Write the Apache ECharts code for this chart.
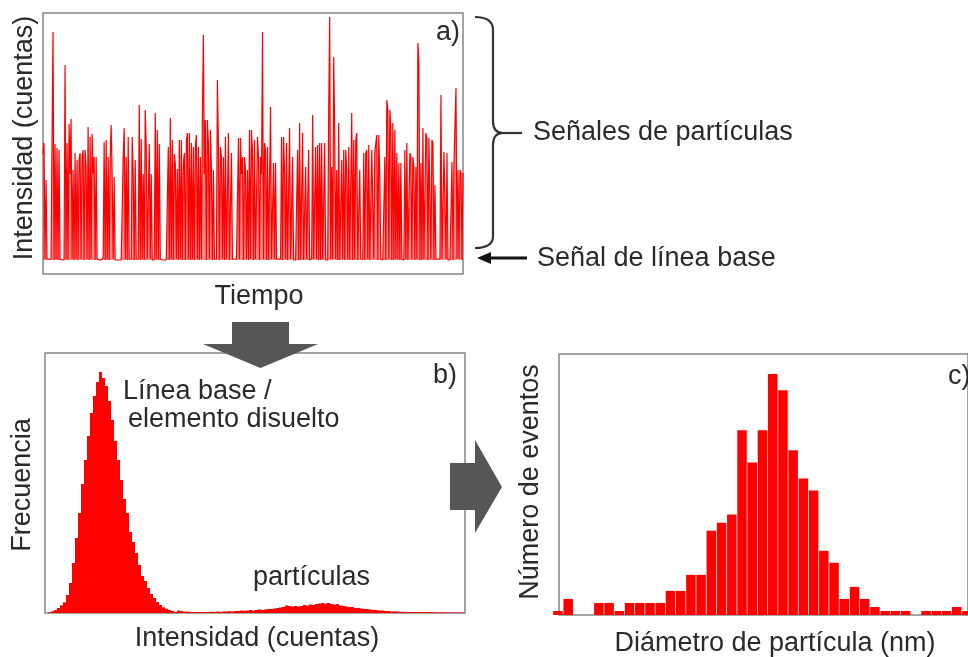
<!DOCTYPE html>
<html>
<head>
<meta charset="utf-8">
<script src="https://cdn.jsdelivr.net/npm/echarts@6/dist/echarts.min.js"></script>
<style>html,body{margin:0;padding:0;background:#fff}#c{width:968px;height:657px}</style>
</head>
<body>
<div id="c"></div>
<script>
// Panel a: time signal (intensity in counts, one sample per time step)
const signalA = [
120,131,15,94,15,14,15,14,15,14,242,14,130,15,126,14,124,15,15,14,15,14,209,15,131,14,150,100,155,15,
104,14,121,15,114,14,114,121,15,118,124,14,124,107,15,147,14,137,15,140,100,117,14,117,15,15,14,15,14,15,
16,132,14,134,15,117,14,114,149,97,15,97,14,15,14,15,14,15,14,15,117,146,15,117,14,137,15,14,15,137,
100,14,114,15,14,15,169,14,135,15,100,14,164,127,15,14,130,15,100,14,15,14,161,15,144,14,130,15,15,14,
15,14,15,14,15,127,14,156,15,134,14,120,110,15,105,14,134,15,134,14,110,
121,14,132,141,15,141,14,131,15,127,14,127,139,15,127,14,117,15,157,239,100,154,14,154,131,15,144,104,14,104,
15,14,15,194,127,14,127,117,15,117,14,137,15,15,141,14,14,121,15,14,15,14,15,14,136,15,136,100,117,14,
117,104,15,104,14,144,15,144,121,14,134,15,15,137,117,14,117,100,242,15,131,124,14,127,14,15,167,15,14,111,
15,111,15,14,15,14,15,137,14,137,101,15,131,14,14,146,15,15,117,14,15,14,15,124,14,151,14,15,141,14,
14,107,15,15,124,14,14,15,159,15,14,127,15,129,14,131,14,131,15,15,131,14,15,14,161,257,15,107,15,217,
142,15,104,14,151,14,15,114,15,124,14,124,104,15,127,14,14,161,14,134,15,134,141,14,14,104,15,14,15,121,
14,121,124,15,129,14,14,124,122,15,122,121,139,14,139,97,15,15,14,15,117,14,174,164,15,164,147,14,151,14,
144,15,121,15,111,14,111,15,15,14,124,15,131,14,14,121,117,15,117,107,14,107,15,231,211,14,111,14,146,15,
15,141,136,14,136,134,15,134,131,14,89,15,15,15,14,15,179,15,14,122,121,15,121,14,15,14,15,112,14,111,
111,186,15,104,15,104,101,14,101
];
const timeSteps = signalA.map((_, i) => i);
const baselineLevel = 14;

// Panel b: intensity histogram (frequency per intensity bin)
const histB = [
0,0.7,1.7,3,5,7.7,10.7,18,30,50,75,100,129,153,177,200,217,231,241,235,
227,212,193,172,153,133,114,100,81,71,60,48,37,32,25,19,15,11,8,5.7,
4.3,3,2,1,
2.5,2,1.5,1.5,1,1,1,1,0.8,1,1,1.2,1,1.5,1.2,1.5,1.5,1.8,1.5,2,
2,2.5,2.2,2.5,3,2.5,3,3.5,3,3.5,4,4,4.5,5,5.5,6,7.5,7,6.5,7,
6.5,7,8,7.5,8.5,8,9,9.5,10,9.5,10,9,8.5,9,7.5,7,6.5,6,6,5,
5,4.5,4,4,3.5,3,3,2.5,2.5,2,2,1.5,1.5,1.5,1.2,1.2,1,1,1,1,
0.8,1,0.8,0.8,1,0.8,0.8,0.6,0.8,0.6,0.6,0.5,0.6,0.5,0.5,0.4
];
const binsB = histB.map((_, i) => i);

// Panel c: particle diameter histogram (bin index, events)
const binsC = [-1,0,1,2,3,4,5,6,7,8,9,10,11,12,13,14,15,16,17,18,19,20,21,22,23,24,25,26,27,28,29,30,31,32,33,34,35,36,37,38,39];
const eventsC = [1,4,0,0,3,3,1,3,3,3,3,6,6,10,10,21,23,25,46,38,46,60,56,41,34,31,16,13,4,7,4,2,1,1,1,0,1,1,1,2,1];

const RED = '#ff0000';
const TXT = '#2a2a2a';
const FONT = 'Liberation Sans, Arial, sans-serif';
const GRAY = '#565656';

function txt(x, y, text, opts) {
  opts = opts || {};
  return {
    type: 'text', x: x, y: y, rotation: opts.rot || 0, z: 100,
    style: {
      text: text, fill: TXT, fontSize: opts.size || 27, fontFamily: FONT,
      align: opts.align || 'center', verticalAlign: 'middle'
    }
  };
}
function seg(x1, y1, x2, y2) {
  return {type: 'line', z: 100, shape: {x1: x1, y1: y1, x2: x2, y2: y2}, style: {stroke: '#333333', lineWidth: 2.2}};
}
function curve(x1, y1, cx, cy, x2, y2) {
  return {type: 'bezierCurve', z: 100, shape: {x1: x1, y1: y1, cpx1: cx, cpy1: cy, x2: x2, y2: y2}, style: {stroke: '#333333', lineWidth: 2.2, fill: null}};
}

const chart = echarts.init(document.getElementById('c'), null, {renderer: 'canvas'});
const hidden = {axisLine: {show: false}, axisTick: {show: false}, axisLabel: {show: false}, splitLine: {show: false}};

chart.setOption({
  animation: false,
  backgroundColor: '#ffffff',
  grid: [
    {left: 43, top: 13, width: 420, height: 261, show: true, borderColor: '#858585', borderWidth: 1.5, backgroundColor: 'transparent'},
    {left: 45, top: 353, width: 420, height: 260, show: true, borderColor: '#858585', borderWidth: 1.5, backgroundColor: 'transparent'},
    {left: 559, top: 354, width: 420, height: 261, show: true, borderColor: '#858585', borderWidth: 1.5, backgroundColor: 'transparent'}
  ],
  xAxis: [
    Object.assign({type: 'category', gridIndex: 0, data: timeSteps, boundaryGap: false}, hidden),
    Object.assign({type: 'category', gridIndex: 1, data: binsB, boundaryGap: true}, hidden),
    Object.assign({type: 'value', gridIndex: 2, min: -0.4, max: 39.6}, hidden)
  ],
  yAxis: [
    Object.assign({type: 'value', gridIndex: 0, min: 0, max: 261}, hidden),
    Object.assign({type: 'value', gridIndex: 1, min: 0, max: 260}, hidden),
    Object.assign({type: 'value', gridIndex: 2, min: 0, max: 65}, hidden)
  ],
  series: [
    {
      type: 'line', xAxisIndex: 0, yAxisIndex: 0, data: signalA,
      showSymbol: false, symbol: 'none', smooth: false,
      lineStyle: {color: RED, width: 1.2}, itemStyle: {color: RED},
      areaStyle: {color: RED, opacity: 0.45, origin: baselineLevel}
    },
    {
      type: 'bar', xAxisIndex: 1, yAxisIndex: 1, data: histB,
      barCategoryGap: '0%', barGap: '0%', itemStyle: {color: RED}
    },
    {
      type: 'bar', xAxisIndex: 2, yAxisIndex: 2,
      data: binsC.map((k, i) => [k + 0.5, eventsC[i]]),
      barWidth: 9.5, clip: true, itemStyle: {color: RED}
    }
  ],
  graphic: [
    txt(25, 138, 'Intensidad (cuentas)', {rot: Math.PI / 2}),
    txt(259, 297, 'Tiempo'),
    txt(23, 485, 'Frecuencia', {rot: Math.PI / 2}),
    txt(257, 639, 'Intensidad (cuentas)'),
    txt(531, 482, 'Número de eventos', {rot: Math.PI / 2}),
    txt(775, 644, 'Diámetro de partícula (nm)'),
    txt(460, 33, 'a)', {align: 'right'}),
    txt(457, 376, 'b)', {align: 'right'}),
    txt(948, 377, 'c)', {align: 'left'}),
    txt(123, 392, 'Línea base /', {align: 'left'}),
    txt(128, 420, 'elemento disuelto', {align: 'left'}),
    txt(253, 578, 'partículas', {align: 'left'}),
    txt(533, 133, 'Señales de partículas', {align: 'left'}),
    txt(537, 259, 'Señal de línea base', {align: 'left'}),
    // brace
    curve(475, 17, 493, 17, 493, 30),
    seg(493, 30, 493, 121),
    curve(493, 121, 493, 133, 503, 133),
    curve(503, 133, 493, 133, 493, 145),
    seg(493, 145, 493, 236),
    curve(493, 236, 493, 248, 475, 248),
    seg(503, 133, 522, 133),
    // baseline arrow
    {type: 'line', z: 100, shape: {x1: 488, y1: 258, x2: 527, y2: 258}, style: {stroke: '#111111', lineWidth: 3}},
    {type: 'polygon', z: 100, shape: {points: [[477, 258], [491, 252], [491, 264]]}, style: {fill: '#111111'}},
    // gray block arrows
    {type: 'polygon', z: 100, shape: {points: [[232, 322], [289, 322], [289, 344], [318, 344], [260.5, 368], [203, 344], [232, 344]]}, style: {fill: GRAY}},
    {type: 'polygon', z: 100, shape: {points: [[450, 463], [475, 463], [475, 440], [502, 487], [475, 533], [475, 510], [450, 510]]}, style: {fill: GRAY}}
  ]
});
</script>
</body>
</html>
